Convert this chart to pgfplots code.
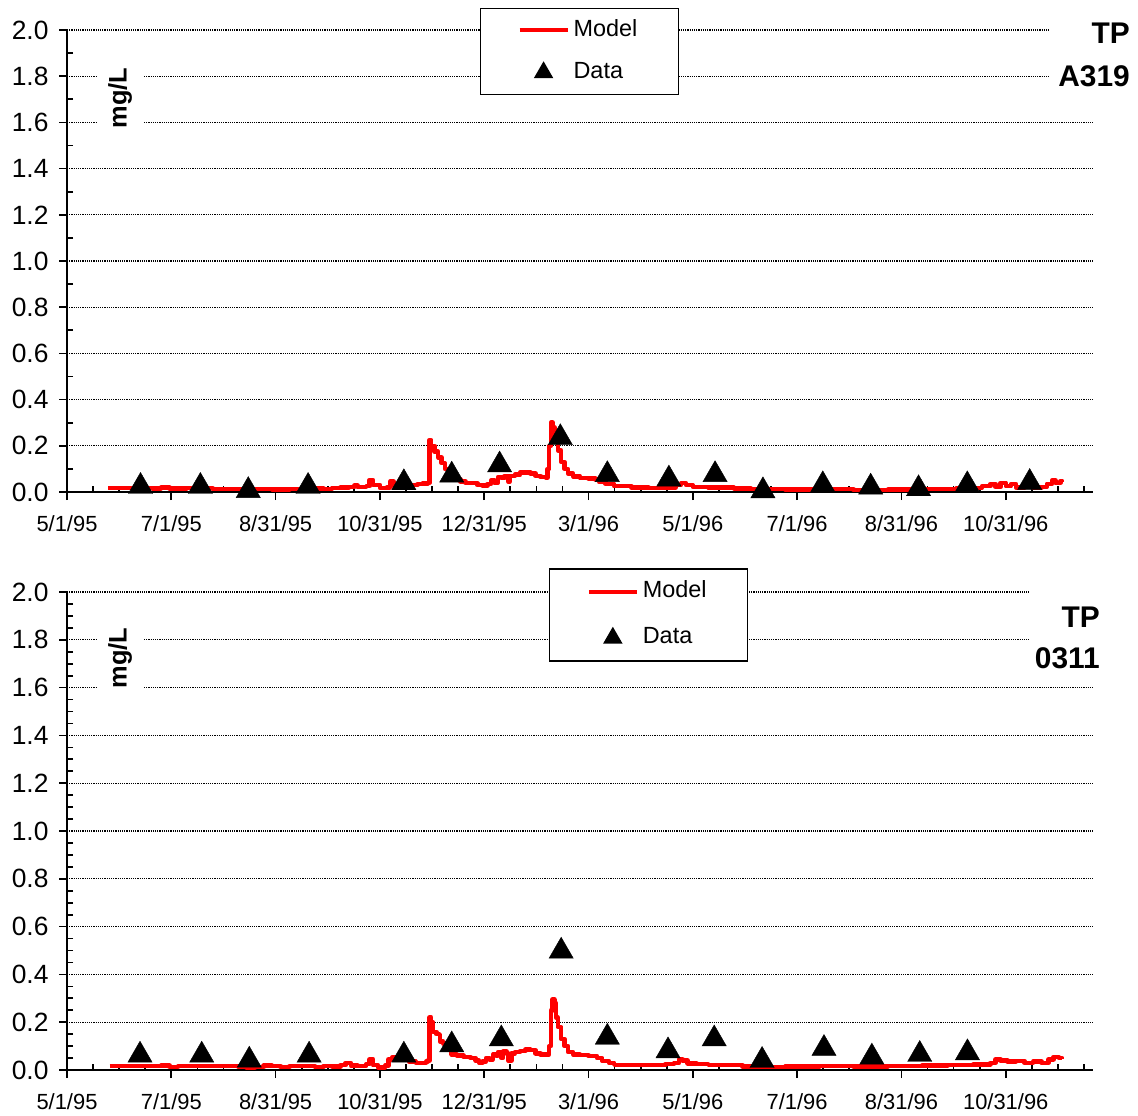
\documentclass[border=0pt]{standalone}
\usepackage{fontspec}
\setmainfont{Liberation Sans}
\usepackage{pgfplots}
\pgfplotsset{compat=1.18}
\begin{document}
\begin{tikzpicture}[x=1bp,y=1bp]
\useasboundingbox (0,0) rectangle (1138,-1116);
\pgfplotsset{
  tpbase/.style={
    scale only axis, width=1026bp,
    xmin=0, xmax=600, ymin=0, ymax=2,
    clip=false,
    axis x line=bottom, axis y line=left,
    axis line style={-, line width=1.7bp, black},
    xtick={0,61,122,183,244,305,366,427,488,549},
    xticklabels={5/1/95,7/1/95,8/31/95,10/31/95,12/31/95,3/1/96,5/1/96,7/1/96,8/31/96,10/31/96},
    minor xtick={15.25,30.5,45.75,76.25,91.5,106.75,137.25,152.5,167.75,198.25,213.5,228.75,259.25,274.5,289.75,320.25,335.5,350.75,381.25,396.5,411.75,442.25,457.5,472.75,503.25,518.5,533.75,564.25,579.5,594.75},
    ytick={0,0.2,0.4,0.6,0.8,1.0,1.2,1.4,1.6,1.8,2.0},
    yticklabels={0.0,0.2,0.4,0.6,0.8,1.0,1.2,1.4,1.6,1.8,2.0},
    tick align=outside, major tick length=8bp, minor tick length=-6bp,
    every tick/.style={black, line width=1.7bp},
    ymajorgrids,
    major grid style={black, line width=1.1bp, dash pattern=on 1.2bp off 1bp},
    xticklabel style={font=\fontsize{22}{24}\selectfont, yshift=-12bp},
    yticklabel style={font=\fontsize{26.5}{28}\selectfont, xshift=-7bp},
    legend cell align=left,
    legend style={draw=black, line width=1.2bp, fill=white,
      font=\fontsize{23.5}{27}\selectfont,
      nodes={inner xsep=4bp, inner ysep=3bp, text height=17bp, text depth=5bp},
      inner xsep=37bp},
  },
  modelstyle/.style={red, line width=4.5bp, const plot, line join=round,
    legend image code/.code={\draw[red, line width=4bp] (0bp,0bp) -- (48bp,0bp);}},
  datastyle/.style={only marks, mark=triangle*, mark size=14bp, black,
    legend image code/.code={\draw[##1, mark size=10bp] plot coordinates {(24bp,0bp)};}},
}
% ---------- top panel ----------
\begin{axis}[tpbase, height=462bp, at={(67bp,-492bp)}, anchor=south west,
  minor ytick={0.1,0.3,0.5,0.7,0.9,1.1,1.3,1.5,1.7,1.9},
  legend style={at={(0.4995,0.9535)}, anchor=center, inner ysep=8bp, row sep=14bp}]
\addplot[modelstyle] coordinates {
(24,0.018) (30,0.017) (40,0.018) (50,0.016) (55,0.019) (60,0.015) (70,0.017) (80,0.018) (85,0.014) (90,0.012) (100,0.013) (110,0.012) (120,0.011) (130,0.012) (140,0.013) (145,0.015) (150,0.014) (155,0.018) (160,0.02) (165,0.022) (168,0.028) (170,0.022) (175,0.025) (177,0.052) (179,0.03) (183,0.018) (187,0.02) (189,0.045) (191,0.025) (195,0.025) (198,0.045) (200,0.03) (205,0.034) (208,0.036) (211,0.04) (212,0.225) (213,0.2) (215,0.175) (217,0.15) (219,0.125) (221,0.1) (223,0.09) (225,0.07) (227,0.055) (230,0.045) (233,0.04) (236,0.038) (240,0.03) (243,0.028) (246,0.035) (248,0.05) (250,0.04) (252,0.065) (254,0.06) (256,0.07) (258,0.045) (259,0.07) (262,0.075) (265,0.085) (268,0.085) (271,0.08) (274,0.07) (277,0.065) (280,0.062) (281,0.1) (282,0.2) (283,0.30) (284,0.28) (285,0.25) (287,0.18) (289,0.13) (291,0.1) (293,0.08) (296,0.068) (300,0.06) (305,0.058) (309,0.055) (311,0.045) (315,0.035) (320,0.025) (330,0.02) (340,0.018) (350,0.02) (356,0.03) (359,0.038) (362,0.03) (366,0.022) (375,0.02) (390,0.015) (400,0.013) (420,0.01) (440,0.012) (460,0.008) (480,0.01) (500,0.012) (520,0.015) (530,0.018) (535,0.025) (540,0.035) (543,0.022) (546,0.04) (549,0.025) (552,0.035) (555,0.02) (560,0.028) (565,0.02) (570,0.022) (573,0.035) (576,0.05) (578,0.04) (581,0.048) (582,0.044)
};
\addlegendentry{Model}
\addplot[datastyle] coordinates {
(43,0.024) (78,0.024) (106,0.006) (141,0.024) (197,0.04) (225,0.073) (253,0.117) (288.5,0.235) (316,0.075) (352,0.056) (379,0.075) (407,0.005) (442,0.031) (470,0.021) (498,0.014) (526.5,0.031) (563,0.041)
};
\addlegendentry{Data}
\end{axis}
% ---------- bottom panel ----------
\begin{axis}[tpbase, height=478bp, at={(67bp,-1070bp)}, anchor=south west,
  minor ytick={0.05,0.1,0.15,0.25,0.3,0.35,0.45,0.5,0.55,0.65,0.7,0.75,0.85,0.9,0.95,1.05,1.1,1.15,1.25,1.3,1.35,1.45,1.5,1.55,1.65,1.7,1.75,1.85,1.9,1.95},
  legend style={at={(0.567,0.952)}, anchor=center, inner ysep=9bp, row sep=18bp}]
\addplot[modelstyle] coordinates {
(25,0.017) (35,0.016) (45,0.017) (55,0.018) (60,0.013) (65,0.016) (75,0.017) (85,0.016) (95,0.017) (100,0.015) (105,0.01) (110,0.012) (115,0.018) (120,0.017) (125,0.012) (130,0.016) (140,0.017) (145,0.012) (150,0.017) (155,0.015) (160,0.02) (163,0.03) (166,0.018) (170,0.017) (175,0.025) (177,0.045) (179,0.02) (182,0.01) (186,0.018) (188,0.045) (190,0.052) (193,0.05) (197,0.045) (200,0.035) (204,0.03) (208,0.03) (210,0.035) (211,0.04) (212,0.22) (213,0.2) (214,0.16) (216,0.15) (218,0.12) (220,0.11) (222,0.09) (225,0.065) (228,0.06) (232,0.055) (236,0.05) (239,0.04) (241,0.03) (243,0.035) (245,0.05) (247,0.045) (249,0.065) (251,0.06) (252,0.075) (254,0.05) (255,0.078) (257,0.07) (258,0.04) (260,0.07) (262,0.075) (265,0.08) (268,0.085) (271,0.083) (274,0.07) (277,0.065) (281,0.065) (282,0.1) (283,0.25) (284,0.295) (285,0.28) (286,0.22) (287,0.18) (289,0.13) (291,0.1) (293,0.075) (296,0.065) (300,0.062) (305,0.058) (310,0.05) (313,0.038) (317,0.03) (320,0.022) (330,0.02) (340,0.021) (350,0.025) (355,0.03) (358,0.045) (360,0.04) (363,0.028) (368,0.025) (375,0.022) (385,0.02) (395,0.015) (405,0.013) (420,0.014) (440,0.016) (460,0.014) (480,0.016) (500,0.018) (515,0.02) (530,0.024) (540,0.03) (543,0.045) (546,0.04) (550,0.035) (555,0.038) (560,0.03) (565,0.035) (570,0.03) (574,0.045) (577,0.055) (580,0.05) (582,0.045)
};
\addlegendentry{Model}
\addplot[datastyle] coordinates {
(42.7,0.062) (78.8,0.062) (106.6,0.041) (141.6,0.062) (197,0.062) (225,0.105) (254,0.13) (289,0.497) (316,0.137) (351.5,0.08) (378.5,0.13) (406.5,0.04) (442.7,0.09) (470.7,0.054) (498.7,0.065) (526.6,0.072)
};
\addlegendentry{Data}
\end{axis}
% ---------- labels ----------
\node[rotate=90, fill=white, inner xsep=5bp, inner ysep=11bp, font=\bfseries\fontsize{25.5}{28}\selectfont] at (120,-98) {mg/L};
\node[rotate=90, fill=white, inner xsep=5bp, inner ysep=11bp, font=\bfseries\fontsize{25.5}{28}\selectfont] at (120,-658) {mg/L};
\node[anchor=east, fill=white, align=right, inner xsep=8bp, inner ysep=4bp, font=\bfseries\fontsize{30}{43}\selectfont] at (1138,-54.5) {TP\\A319};
\node[anchor=east, fill=white, align=right, inner xsep=6bp, inner ysep=18bp, font=\bfseries\fontsize{30}{41}\selectfont] at (1106,-637.5) {TP\\0311};
\end{tikzpicture}
\end{document}
